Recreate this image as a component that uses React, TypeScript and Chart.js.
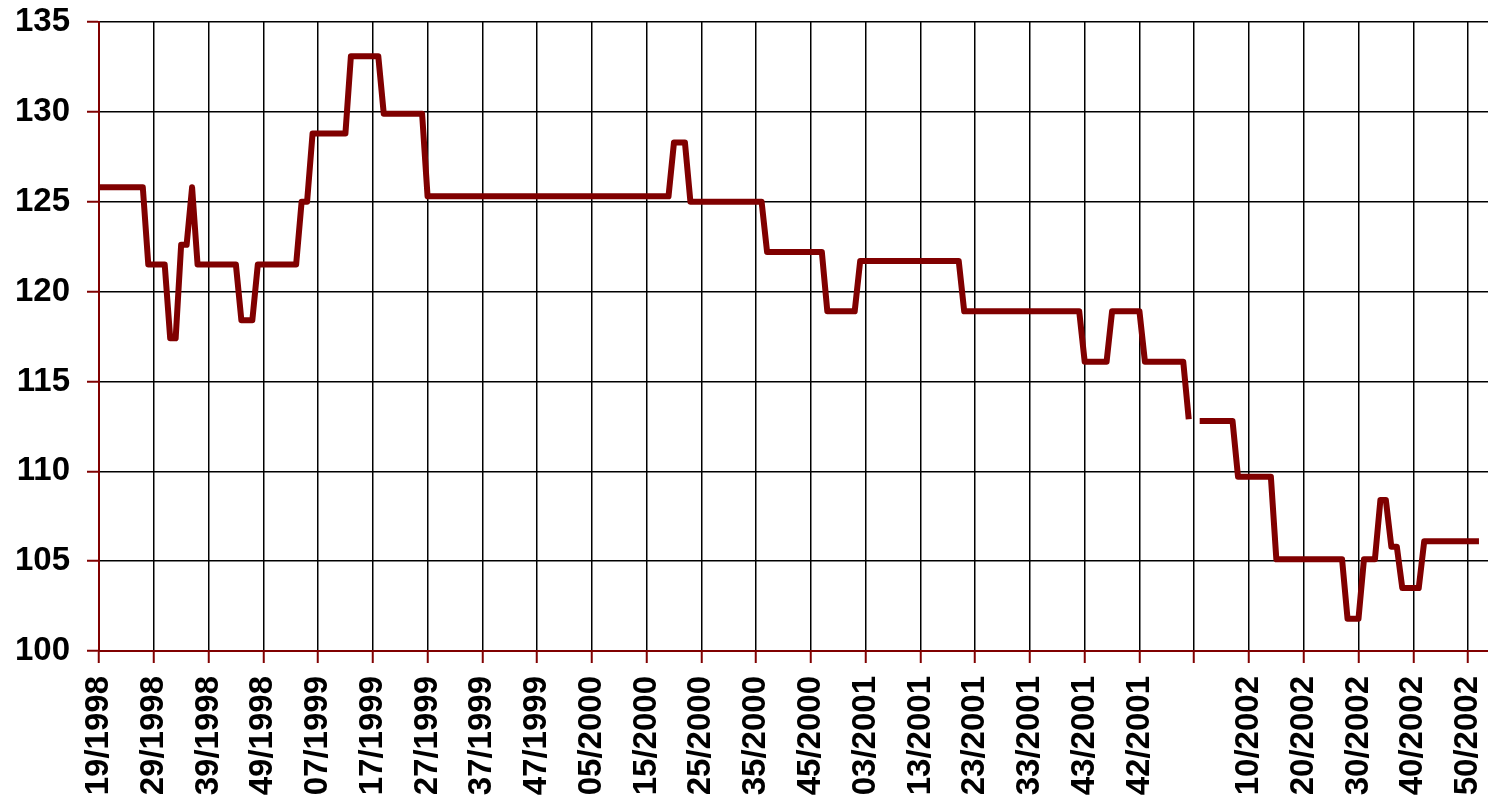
import { useEffect, useRef } from 'react';
import { Chart, registerables } from 'chart.js';

Chart.register(...registerables);

// Tick labels, one every 10 weekly points (index 0, 10, 20, ...)
const tickLabels: string[] = [
  '19/1998', '29/1998', '39/1998', '49/1998', '07/1999', '17/1999', '27/1999',
  '37/1999', '47/1999', '05/2000', '15/2000', '25/2000', '35/2000', '45/2000',
  '03/2001', '13/2001', '23/2001', '33/2001', '43/2001', '42/2001', '',
  '10/2002', '20/2002', '30/2002', '40/2002', '50/2002',
];

// Weekly values (index 0 = week 19/1998); null = missing week
const weeklyValues: (number | null)[] = [
  // 0-9
  125.8, 125.8, 125.8, 125.8, 125.8, 125.8, 125.8, 125.8, 125.8, 121.5,
  // 10-19
  121.5, 121.5, 121.5, 117.4, 117.4, 122.6, 122.6, 125.8, 121.5, 121.5,
  // 20-29
  121.5, 121.5, 121.5, 121.5, 121.5, 121.5, 118.4, 118.4, 118.4, 121.5,
  // 30-39
  121.5, 121.5, 121.5, 121.5, 121.5, 121.5, 121.5, 125.0, 125.0, 128.8,
  // 40-49
  128.8, 128.8, 128.8, 128.8, 128.8, 128.8, 133.1, 133.1, 133.1, 133.1,
  // 50-59
  133.1, 133.1, 129.9, 129.9, 129.9, 129.9, 129.9, 129.9, 129.9, 129.9,
  // 60-69
  125.3, 125.3, 125.3, 125.3, 125.3, 125.3, 125.3, 125.3, 125.3, 125.3,
  // 70-79
  125.3, 125.3, 125.3, 125.3, 125.3, 125.3, 125.3, 125.3, 125.3, 125.3,
  // 80-89
  125.3, 125.3, 125.3, 125.3, 125.3, 125.3, 125.3, 125.3, 125.3, 125.3,
  // 90-99
  125.3, 125.3, 125.3, 125.3, 125.3, 125.3, 125.3, 125.3, 125.3, 125.3,
  // 100-109
  125.3, 125.3, 125.3, 125.3, 125.3, 128.3, 128.3, 128.3, 125.0, 125.0,
  // 110-119
  125.0, 125.0, 125.0, 125.0, 125.0, 125.0, 125.0, 125.0, 125.0, 125.0,
  // 120-129
  125.0, 125.0, 122.2, 122.2, 122.2, 122.2, 122.2, 122.2, 122.2, 122.2,
  // 130-139
  122.2, 122.2, 122.2, 118.9, 118.9, 118.9, 118.9, 118.9, 118.9, 121.7,
  // 140-149
  121.7, 121.7, 121.7, 121.7, 121.7, 121.7, 121.7, 121.7, 121.7, 121.7,
  // 150-159
  121.7, 121.7, 121.7, 121.7, 121.7, 121.7, 121.7, 121.7, 118.9, 118.9,
  // 160-169
  118.9, 118.9, 118.9, 118.9, 118.9, 118.9, 118.9, 118.9, 118.9, 118.9,
  // 170-179
  118.9, 118.9, 118.9, 118.9, 118.9, 118.9, 118.9, 118.9, 118.9, 118.9,
  // 180-189
  116.1, 116.1, 116.1, 116.1, 116.1, 118.9, 118.9, 118.9, 118.9, 118.9,
  // 190-199
  118.9, 116.1, 116.1, 116.1, 116.1, 116.1, 116.1, 116.1, 116.1, 112.9,
  // 200-209
  null, 112.8, 112.8, 112.8, 112.8, 112.8, 112.8, 112.8, 109.7, 109.7,
  // 210-219
  109.7, 109.7, 109.7, 109.7, 109.7, 105.1, 105.1, 105.1, 105.1, 105.1,
  // 220-229
  105.1, 105.1, 105.1, 105.1, 105.1, 105.1, 105.1, 105.1, 101.8, 101.8,
  // 230-239
  101.8, 105.1, 105.1, 105.1, 108.4, 108.4, 105.8, 105.8, 103.5, 103.5,
  // 240-249
  103.5, 103.5, 106.1, 106.1, 106.1, 106.1, 106.1, 106.1, 106.1, 106.1,
  // 250-252
  106.1, 106.1, 106.1,
];

const Y_MIN = 100;
const Y_MAX = 135;
const Y_STEP = 5;
const X_MAX = 253.65;
const LINE_COLOR = '#800000';
const AXIS_COLOR = '#800000';

const labelFont = { family: "'Liberation Sans', Arial, sans-serif", size: 33, weight: 'bold' as const };

export default function App() {
  const canvasRef = useRef<HTMLCanvasElement>(null);

  useEffect(() => {
    const canvas = canvasRef.current;
    if (!canvas) return;
    const points = weeklyValues.map((v, i) => ({ x: i, y: v }));
    const chart = new Chart(canvas, {
      type: 'line',
      data: {
        datasets: [
          {
            data: points as any,
            borderColor: LINE_COLOR,
            backgroundColor: LINE_COLOR,
            borderWidth: 6,
            pointRadius: 0,
            pointHoverRadius: 0,
            tension: 0,
            spanGaps: false,
            fill: false,
            borderJoinStyle: 'round',
            borderCapStyle: 'butt',
          },
        ],
      },
      options: {
        responsive: false,
        animation: false,
        devicePixelRatio: 1,
        events: [],
        layout: { padding: { top: 22, right: 0, bottom: 0, left: 0 } },
        plugins: { legend: { display: false }, tooltip: { enabled: false }, title: { display: false } },
        scales: {
          x: {
            type: 'linear',
            min: 0,
            max: X_MAX,
            afterFit: (s: any) => {
              s.height = 153;
              s.paddingLeft = 0;
              s.paddingRight = 0;
            },
            ticks: {
              stepSize: 10,
              autoSkip: false,
              includeBounds: false,
              minRotation: 90,
              maxRotation: 90,
              padding: 13,
              color: '#000',
              font: labelFont,
              callback: (value: any) => {
                const k = Number(value) / 10;
                if (Number.isInteger(k) && k >= 0 && k < tickLabels.length) return tickLabels[k];
                return null;
              },
            },
            grid: { color: '#000', lineWidth: 1.5, tickColor: AXIS_COLOR, tickLength: 12, tickWidth: 2 },
            border: { color: AXIS_COLOR, width: 2 },
          },
          y: {
            type: 'linear',
            min: Y_MIN,
            max: Y_MAX,
            afterFit: (s: any) => {
              s.width = 99;
              s.paddingTop = 0;
              s.paddingBottom = 0;
            },
            ticks: {
              stepSize: Y_STEP,
              padding: 17,
              color: '#000',
              font: labelFont,
            },
            grid: { color: '#000', lineWidth: 1.5, tickColor: AXIS_COLOR, tickLength: 12, tickWidth: 2 },
            border: { color: AXIS_COLOR, width: 2 },
          },
        },
      },
    });
    return () => chart.destroy();
  }, []);

  return (
    <div style={{ position: 'fixed', left: 0, top: 0, width: 1488, height: 804, background: '#fff', overflow: 'hidden' }}>
      <canvas ref={canvasRef} width={1488} height={804} style={{ width: 1488, height: 804, display: 'block' }} />
    </div>
  );
}
